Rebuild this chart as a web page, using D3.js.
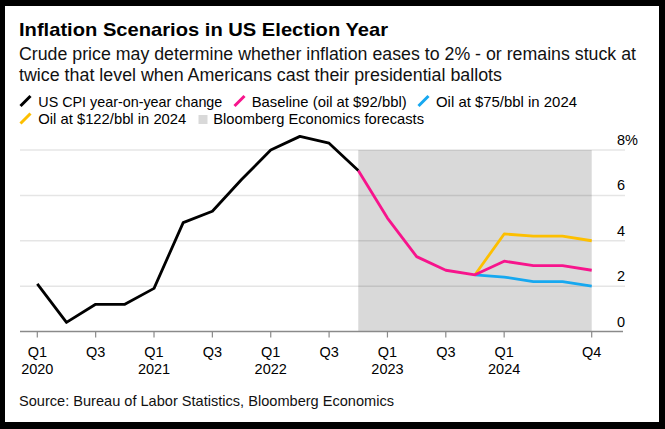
<!DOCTYPE html>
<html>
<head>
<meta charset="utf-8">
<script src="https://cdn.jsdelivr.net/npm/d3@7"></script>
<style>
  html, body { margin: 0; padding: 0; background: #000; }
  svg { display: block; font-family: "Liberation Sans", Arial, sans-serif; }
</style>
</head>
<body>
<svg id="chart" width="665" height="429"></svg>
<script>
// ---- data ----
const quarters = ["Q1","Q2","Q3","Q4","Q1","Q2","Q3","Q4","Q1","Q2","Q3","Q4","Q1","Q2","Q3","Q4","Q1","Q2","Q3","Q4"];
const years    = ["2020","2020","2020","2020","2021","2021","2021","2021","2022","2022","2022","2022","2023","2023","2023","2023","2024","2024","2024","2024"];
const tickIdx  = [0,2,4,6,8,10,12,14,16,19];
const cpi      = [2.1,0.4,1.2,1.2,1.9,4.8,5.3,6.7,8.0,8.6,8.3,7.1];          // Q1 2020 .. Q4 2022
const baseline = [7.1,5.0,3.3,2.7,2.5,3.1,2.9,2.9,2.7];                       // Q4 2022 .. Q4 2024
const oil75    = [2.5,2.4,2.2,2.2,2.0];                                        // Q4 2023 .. Q4 2024
const oil122   = [2.5,4.3,4.2,4.2,4.0];                                        // Q4 2023 .. Q4 2024
const yTicks   = [0,2,4,6,8];
const forecastStart = 11, forecastEnd = 19;

const colors = { cpi: "#000000", base: "#f7148c", low: "#16a8f0", high: "#fdbf00", shade: "#d9d9d9" };

const svg = d3.select("#chart");
svg.append("rect").attr("x",5).attr("y",6).attr("width",654).attr("height",416).attr("fill","#fff");

function txt(x, y, s, size, opts={}) {
  const t = svg.append("text").attr("x", x).attr("y", y).text(s)
    .attr("font-size", size).attr("fill", opts.fill || "#000")
    .attr("font-weight", opts.weight || "normal");
  if (opts.len) t.attr("textLength", opts.len).attr("lengthAdjust", "spacingAndGlyphs");
  if (opts.anchor) t.attr("text-anchor", opts.anchor);
  return t;
}

// title & subtitle
txt(19, 35.7, "Inflation Scenarios in US Election Year", 19, {weight: "bold", len: 369});
txt(19, 60, "Crude price may determine whether inflation eases to 2% - or remains stuck at", 17.5, {fill:"#111", len: 617});
txt(19, 80.7, "twice that level when Americans cast their presidential ballots", 17.5, {fill:"#111", len: 483});

// legend
function slash(x, y, c) {
  svg.append("line").attr("x1", x).attr("y1", y).attr("x2", x + 10).attr("y2", y - 10)
    .attr("stroke", c).attr("stroke-width", 3);
}
slash(20.5, 106, colors.cpi);   txt(38.3, 106.5, "US CPI year-on-year change", 15, {len: 184});
slash(234.5, 106, colors.base); txt(251.7, 106.5, "Baseline (oil at $92/bbl)", 15, {len: 155});
slash(418.5, 106, colors.low);  txt(436, 106.5, "Oil at $75/bbl in 2024", 15, {len: 141});
slash(20.5, 123.5, colors.high); txt(38.3, 123.5, "Oil at $122/bbl in 2024", 15, {len: 148});
svg.append("rect").attr("x", 198.5).attr("y", 115).attr("width", 9).attr("height", 9).attr("fill", colors.shade);
txt(213.3, 123.5, "Bloomberg Economics forecasts", 15, {len: 210.7});

// scales
const x = d3.scaleLinear().domain([0, 19]).range([37.3, 591.7]);
const y = d3.scaleLinear().domain([0, 8]).range([331.5, 150]);

// forecast shading
svg.append("rect")
  .attr("x", x(forecastStart)).attr("y", y(8))
  .attr("width", x(forecastEnd) - x(forecastStart)).attr("height", y(0) - y(8))
  .attr("fill", colors.shade);

// gridlines
svg.append("g").selectAll("line").data(yTicks.filter(d => d > 0)).join("line")
  .attr("x1", 20).attr("x2", 625).attr("y1", d => y(d)).attr("y2", d => y(d))
  .attr("stroke", "rgba(0,0,0,0.1)").attr("stroke-width", 1.5);

// y labels
svg.append("g").selectAll("text").data(yTicks).join("text")
  .attr("x", 617).attr("y", d => y(d) - 5)
  .attr("font-size", 14.5).attr("fill", "#000")
  .text(d => d === 8 ? "8%" : String(d));

// x axis line
svg.append("line").attr("x1", 20).attr("x2", 623).attr("y1", y(0)).attr("y2", y(0))
  .attr("stroke", "#8a8a8a").attr("stroke-width", 1.5);

// x ticks & labels
const xt = svg.append("g").selectAll("g").data(tickIdx).join("g")
  .attr("transform", d => `translate(${x(d)},${y(0)})`);
xt.append("line").attr("y1", 0).attr("y2", 6).attr("stroke", "#8a8a8a").attr("stroke-width", 1.2);
xt.append("text").attr("y", 25.8).attr("text-anchor", "middle").attr("font-size", 14.5)
  .text(d => quarters[d]);
xt.filter(d => quarters[d] === "Q1").append("text").attr("y", 42.5).attr("text-anchor", "middle")
  .attr("font-size", 14.5).text(d => years[d]);

// lines
const line = d3.line().x(d => x(d.i)).y(d => y(d.v));
function series(vals, start, color) {
  svg.append("path")
    .datum(vals.map((v, k) => ({ i: start + k, v })))
    .attr("d", line).attr("fill", "none").attr("stroke", color)
    .attr("stroke-width", 2.8).attr("stroke-linejoin", "round");
}
series(oil122, 15, colors.high);
series(oil75, 15, colors.low);
series(baseline, forecastStart, colors.base);
series(cpi, 0, colors.cpi);

// source
txt(19, 406, "Source: Bureau of Labor Statistics, Bloomberg Economics", 14.5, {fill:"#111", len: 375});
</script>
</body>
</html>
